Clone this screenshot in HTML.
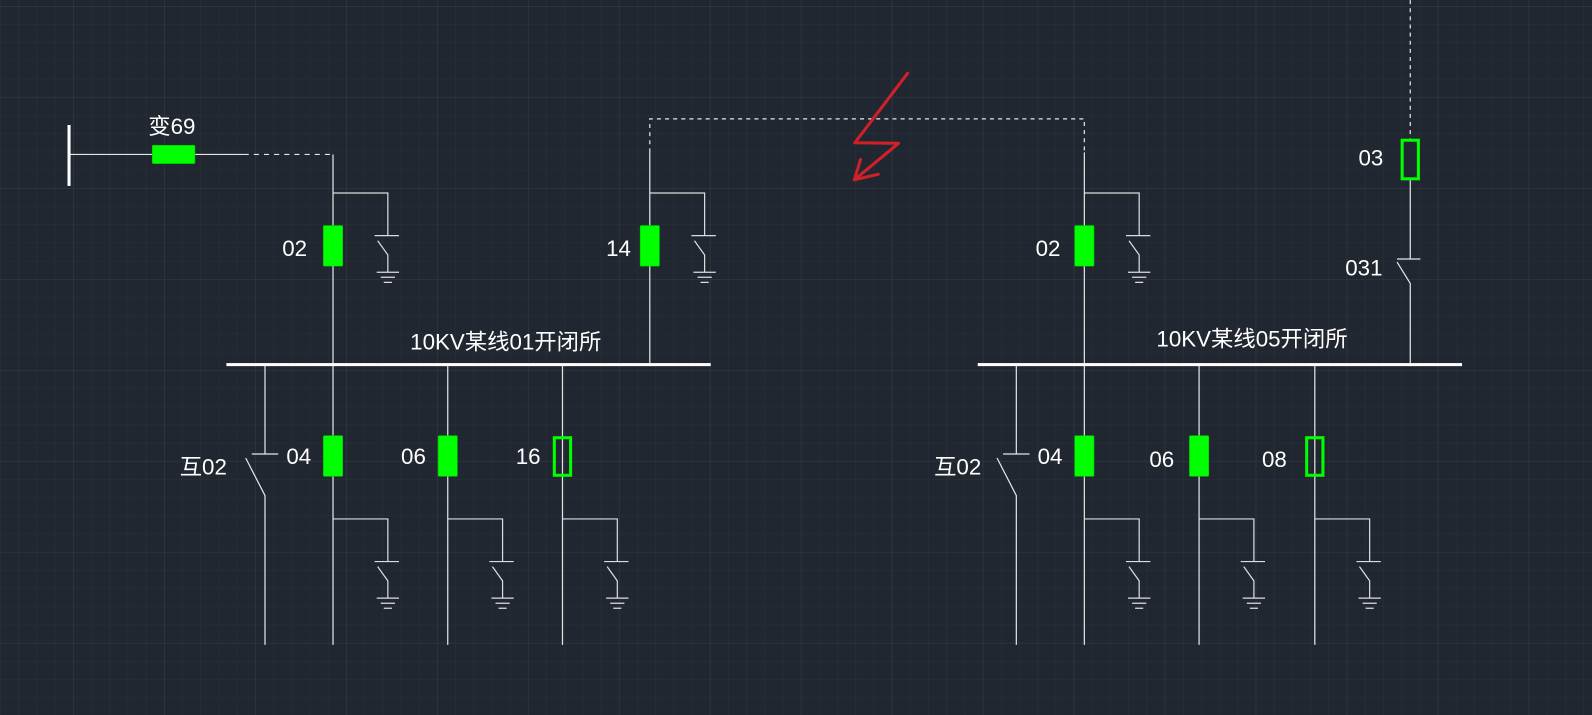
<!DOCTYPE html>
<html><head><meta charset="utf-8"><style>
html,body{margin:0;padding:0;background:#212730;}
svg{display:block}
text{font-family:"Liberation Sans","Noto Sans CJK SC",sans-serif;fill:#fff;font-size:22px}
</style></head><body>
<svg width="1592" height="715" viewBox="0 0 1568 704" xmlns="http://www.w3.org/2000/svg">
<defs>
<pattern id="mi" width="17.92" height="17.92" patternUnits="userSpaceOnUse" x="72" y="95.5">
<path d="M0 0H17.92M0 0V17.92" stroke="#2a303a" stroke-width="1" fill="none"/></pattern>
<pattern id="ma" width="89.6" height="89.6" patternUnits="userSpaceOnUse" x="72" y="95.5">
<path d="M0 0H89.6M0 0V89.6" stroke="#353c48" stroke-width="1" fill="none"/></pattern>
<g id="gsU" stroke="#ddd" stroke-width="1.2" fill="none">
<path d="M0 0H54V42M41 42H65M44 47L54 61V78M43 78H65M47 83H61M50 88H58"/>
</g>
</defs>
<rect width="1568" height="704" fill="#212730"/>
<rect width="1568" height="704" fill="url(#mi)"/>
<rect width="1568" height="704" fill="url(#ma)"/>

<g stroke="#e6e6e6" stroke-width="1.2" fill="none">
<path d="M68 152H150M192 152H240"/>
<path d="M240 152H328" stroke-dasharray="5,5"/>
<path d="M328 152V635"/>
<path d="M640 150V117H1068V150" stroke-dasharray="4,4"/>
<path d="M640 150V359"/>
<path d="M1068 150V635"/>
<path d="M261 359V447M248 447H274M242 451L261 488V635"/>
<path d="M441 359V635M554 359V635"/>
<path d="M1389 0V137" stroke-dasharray="4,4"/>
<path d="M1389 177V255M1376 255H1399M1376 258L1389 279V359"/>
<path d="M1001 359V447M988 447H1014M982 451L1001 488V635"/>
<path d="M1181 359V635M1295 359V635"/>
</g>
<rect x="66.5" y="123" width="3" height="60" fill="#fff"/>
<rect x="223" y="357.5" width="477" height="3" fill="#fff"/>
<rect x="963" y="357.5" width="477" height="3" fill="#fff"/>

<use href="#gsU" x="328" y="190"/>
<use href="#gsU" x="640" y="190"/>
<use href="#gsU" x="1068" y="190"/>
<use href="#gsU" x="328" y="511"/>
<use href="#gsU" x="441" y="511"/>
<use href="#gsU" x="554" y="511"/>
<use href="#gsU" x="1068" y="511"/>
<use href="#gsU" x="1181" y="511"/>
<use href="#gsU" x="1295" y="511"/>

<g fill="#00ff00" stroke="#00c800" stroke-width="0.6">
<rect x="150" y="143" width="42" height="18" rx="1"/>
<rect x="318.5" y="222" width="19" height="40" rx="1"/>
<rect x="630.5" y="222" width="19" height="40" rx="1"/>
<rect x="1058.5" y="222" width="19" height="40" rx="1"/>
<rect x="318.5" y="429" width="19" height="40" rx="1"/>
<rect x="431.5" y="429" width="19" height="40" rx="1"/>
<rect x="1058.5" y="429" width="19" height="40" rx="1"/>
<rect x="1171.5" y="429" width="19" height="40" rx="1"/>
</g>
<g fill="none" stroke="#00ff00" stroke-width="3">
<rect x="546" y="431" width="16" height="37"/>
<rect x="1287" y="431" width="16" height="37"/>
<rect x="1381" y="138" width="16" height="38"/>
</g>

<g stroke="#d0202a" stroke-width="3" fill="none" stroke-linecap="round" stroke-linejoin="round">
<path d="M894 72L842 140.5L885 141L841.5 177"/>
<path d="M847.5 157L841.5 177L865 171.5"/>
</g>

<text x="146" y="132">变69</text>
<text x="278" y="252">02</text>
<text x="597" y="252">14</text>
<text x="1020" y="252">02</text>
<text x="1338" y="163">03</text>
<text x="1325" y="271">031</text>
<text x="404" y="344">10KV某线01开闭所</text>
<text x="1139" y="341">10KV某线05开闭所</text>
<text x="177" y="467">互02</text>
<text x="282" y="457">04</text>
<text x="395" y="457">06</text>
<text x="508" y="457">16</text>
<text x="920" y="467">互02</text>
<text x="1022" y="457">04</text>
<text x="1132" y="460">06</text>
<text x="1243" y="460">08</text>
</svg>
</body></html>
